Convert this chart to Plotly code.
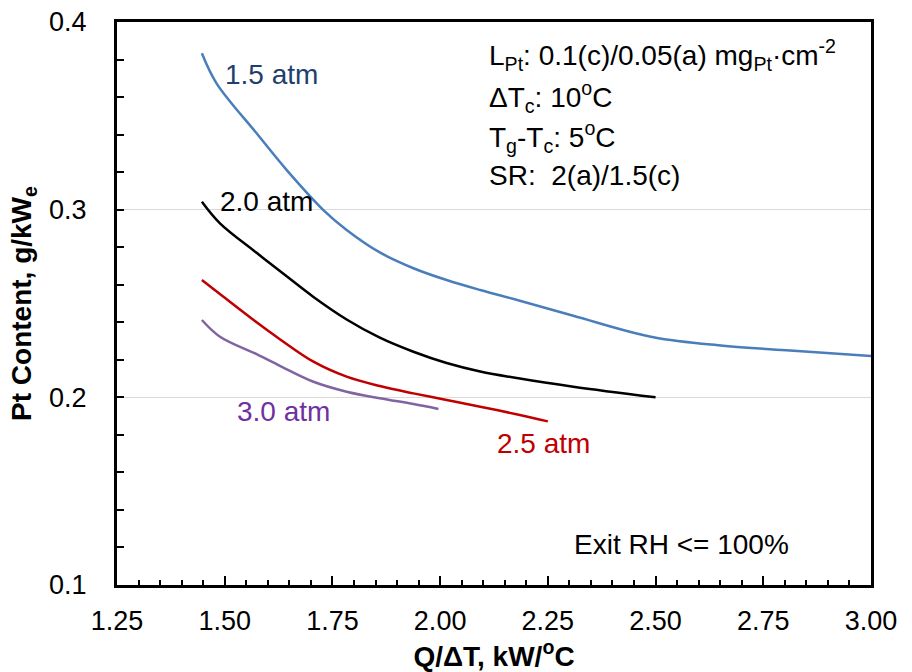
import plotly.graph_objects as go

# ---- data ----
x_15 = [1.447, 1.481, 1.574, 1.644, 1.729, 1.783, 1.860, 1.938, 2.015, 2.093, 2.185, 2.309, 2.495, 2.657, 2.812, 3.00]
y_15 = [0.3833, 0.3673, 0.3407, 0.3211, 0.2998, 0.2892, 0.2772, 0.2688, 0.2625, 0.2572, 0.2515, 0.2435, 0.2320, 0.2275, 0.2249, 0.2220]

x_20 = [1.447, 1.489, 1.574, 1.652, 1.706, 1.783, 1.860, 1.938, 2.015, 2.093, 2.185, 2.309, 2.500]
y_20 = [0.3042, 0.2927, 0.2770, 0.2630, 0.2535, 0.2415, 0.2318, 0.2243, 0.2183, 0.2138, 0.2100, 0.2057, 0.2000]

x_25 = [1.447, 1.497, 1.574, 1.628, 1.706, 1.783, 1.860, 1.938, 2.015, 2.093, 2.185, 2.250]
y_25 = [0.2625, 0.2536, 0.2400, 0.2310, 0.2190, 0.2110, 0.2060, 0.2021, 0.1986, 0.1950, 0.1906, 0.1872]

x_30 = [1.447, 1.489, 1.574, 1.628, 1.706, 1.783, 1.860, 1.938, 1.996]
y_30 = [0.2412, 0.2323, 0.2230, 0.2168, 0.2083, 0.2030, 0.1995, 0.1964, 0.1938]

series_names = ["1.5 atm", "2.0 atm", "2.5 atm", "3.0 atm"]
x_ticks = [1.25, 1.50, 1.75, 2.00, 2.25, 2.50, 2.75, 3.00]
y_ticks = [0.1, 0.2, 0.3, 0.4]

line_colors = ["#4A7EBB", "#000000", "#C00000", "#8064A2"]
label_colors = ["#1F3F6E", "#000000", "#C00000", "#7030A0"]

FONT = "Liberation Sans, Arial, sans-serif"

fig = go.Figure()
for xs, ys, name, col in zip([x_15, x_20, x_25, x_30], [y_15, y_20, y_25, y_30], series_names, line_colors):
    fig.add_trace(go.Scatter(x=xs, y=ys, mode="lines", name=name,
                             line=dict(color=col, width=2.5, shape="spline", smoothing=1.0),
                             showlegend=False, hoverinfo="skip"))

# curve labels
label_pos = [(1.4950, 0.3720), (1.4844, 0.3041), (2.1273, 0.1754), (1.5239, 0.1922)]
for (lx, ly), name, col in zip(label_pos, series_names, label_colors):
    fig.add_annotation(x=lx, y=ly, text=name, showarrow=False, xanchor="left", yanchor="middle",
                       font=dict(size=28, color=col, family=FONT))

# condition text block
info_lines = [
    "L<sub>Pt</sub>: 0.1(c)/0.05(a) mg<sub>Pt</sub>·cm<sup>-2</sup>",
    "ΔT<sub>c</sub>: 10<sup>o</sup>C",
    "T<sub>g</sub>-T<sub>c</sub>: 5<sup>o</sup>C",
    "SR:  2(a)/1.5(c)",
]
info_y = [0.3823, 0.3602, 0.3389, 0.3183]
for txt, iy in zip(info_lines, info_y):
    fig.add_annotation(x=2.1090, y=iy, text=txt, showarrow=False, xanchor="left", yanchor="middle",
                       font=dict(size=28, color="#000000", family=FONT))

fig.add_annotation(x=2.3050, y=0.1218, text="Exit RH <= 100%", showarrow=False,
                   xanchor="left", yanchor="middle", font=dict(size=28, color="#000000", family=FONT))

fig.update_layout(
    width=912, height=672,
    margin=dict(l=117, r=41, t=22, b=87),
    paper_bgcolor="white", plot_bgcolor="white",
    font=dict(family=FONT, color="#000000"),
    xaxis=dict(
        range=[1.25, 3.00], tickvals=x_ticks, ticktext=[f"{v:.2f}" for v in x_ticks],
        showgrid=False, zeroline=False, automargin=False,
        showline=True, linecolor="black", linewidth=3, mirror=True,
        ticks="inside", ticklen=9, tickwidth=1.5, tickcolor="black",
        minor=dict(dtick=0.05, ticks="inside", ticklen=5, tickwidth=1.5, tickcolor="black", showgrid=False),
        tickfont=dict(size=27, family=FONT, color="black"),
        ticklabelstandoff=10,
        title=dict(text="<b>Q/ΔT, kW/<sup>o</sup>C</b>", font=dict(size=28, family=FONT, color="black"), standoff=8),
    ),
    yaxis=dict(
        range=[0.1, 0.4], tickvals=y_ticks, ticktext=[f"{v:.1f}" for v in y_ticks],
        showgrid=True, gridcolor="#D9D9D9", gridwidth=1, zeroline=False, automargin=False,
        showline=True, linecolor="black", linewidth=3, mirror=True,
        ticks="inside", ticklen=7, tickwidth=1.5, tickcolor="black",
        minor=dict(dtick=0.02, ticks="inside", ticklen=7, tickwidth=1.5, tickcolor="black", showgrid=False),
        tickfont=dict(size=27, family=FONT, color="black"),
        ticklabelstandoff=22,
        title=dict(text="<b>Pt Content, g/kW<sub>e</sub></b>", font=dict(size=28, family=FONT, color="black"), standoff=10),
    ),
)

fig.write_html("out.html", config={"displayModeBar": False},
               post_script="document.body.style.margin='0px';document.body.style.overflow='hidden';")
